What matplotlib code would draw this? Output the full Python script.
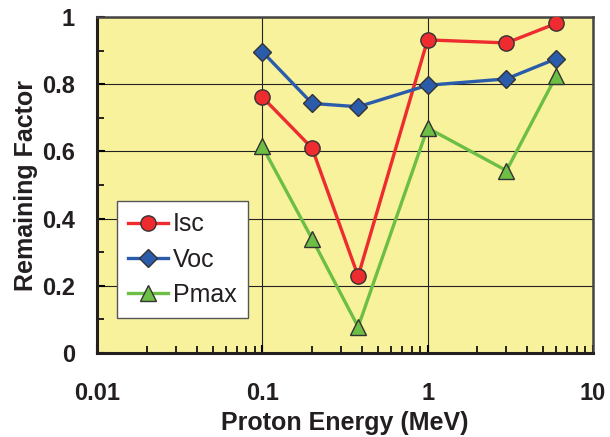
import matplotlib.pyplot as plt
from matplotlib.ticker import FixedLocator, MultipleLocator, LogLocator, NullFormatter

plt.rcParams['font.family'] = ['Liberation Sans', 'DejaVu Sans']

# data
energy = [0.1, 0.2, 0.38, 1, 3, 6]
isc = [0.762, 0.61, 0.229, 0.932, 0.923, 0.981]
voc = [0.897, 0.743, 0.733, 0.797, 0.816, 0.876]
pmax = [0.615, 0.34, 0.078, 0.67, 0.543, 0.825]
x_ticks = [0.01, 0.1, 1, 10]
x_labels = ["0.01", "0.1", "1", "10"]
y_ticks = [0, 0.2, 0.4, 0.6, 0.8, 1]
y_labels = ["0", "0.2", "0.4", "0.6", "0.8", "1"]

fig = plt.figure(figsize=(6.1, 4.37), dpi=100)
ax = fig.add_axes([0.159, 0.192, 0.813, 0.769])
ax.set_facecolor("#F8F29C")

ax.plot(energy, isc, color="#EE2B2F", lw=2.4, marker="o", ms=11,
        mfc="#EE2B2F", mec="#333333", mew=1.0, label="Isc", zorder=3)
ax.plot(energy, voc, color="#2B5CAB", lw=2.4, marker="D", ms=9.5,
        mfc="#2B5CAB", mec="#333333", mew=1.0, label="Voc", zorder=3)
ax.plot(energy, pmax, color="#6CBE45", lw=2.4, marker="^", ms=11,
        mfc="#6CBE45", mec="#333333", mew=1.0, label="Pmax", zorder=3)

ax.set_xscale("log")
ax.set_xlim(0.01, 10)
ax.set_ylim(0, 1)
ax.xaxis.set_major_locator(FixedLocator(x_ticks))
ax.set_xticklabels(x_labels)
ax.xaxis.set_minor_locator(LogLocator(base=10, subs=range(2, 10)))
ax.xaxis.set_minor_formatter(NullFormatter())
ax.yaxis.set_major_locator(FixedLocator(y_ticks))
ax.set_yticklabels(y_labels)
ax.yaxis.set_minor_locator(MultipleLocator(0.1))

ax.grid(True, which="major", color="#222222", lw=0.8)
ax.set_axisbelow(True)

ax.tick_params(which="both", direction="in", top=False, right=False)
ax.tick_params(which="major", length=6, width=1.5, labelsize=17)
ax.tick_params(axis="x", which="major", pad=21)
ax.tick_params(axis="y", which="major", pad=16)
ax.tick_params(which="minor", length=5, width=1.2)
for lbl in ax.get_xticklabels() + ax.get_yticklabels():
    lbl.set_fontweight("bold")
    lbl.set_color("#231F20")

for side in ["left", "bottom"]:
    ax.spines[side].set_linewidth(2.2)
    ax.spines[side].set_color("#231F20")
for side in ["top", "right"]:
    ax.spines[side].set_linewidth(1.8)
    ax.spines[side].set_color("#444444")

ax.set_xlabel("Proton Energy (MeV)", fontsize=18, fontweight="bold", color="#231F20", labelpad=4)
ax.set_ylabel("Remaining Factor", fontsize=18, fontweight="bold", color="#231F20", labelpad=3)

leg = ax.legend(loc="lower left", bbox_to_anchor=(0.04, 0.104), borderaxespad=0,
                fontsize=18, frameon=True, fancybox=False, framealpha=1,
                edgecolor="#555555", handlelength=1.6, handletextpad=0.2,
                labelspacing=0.45, borderpad=0.45)
leg.get_frame().set_linewidth(1.0)
for t in leg.get_texts():
    t.set_color("#231F20")

fig.savefig("out.png", dpi=100)
